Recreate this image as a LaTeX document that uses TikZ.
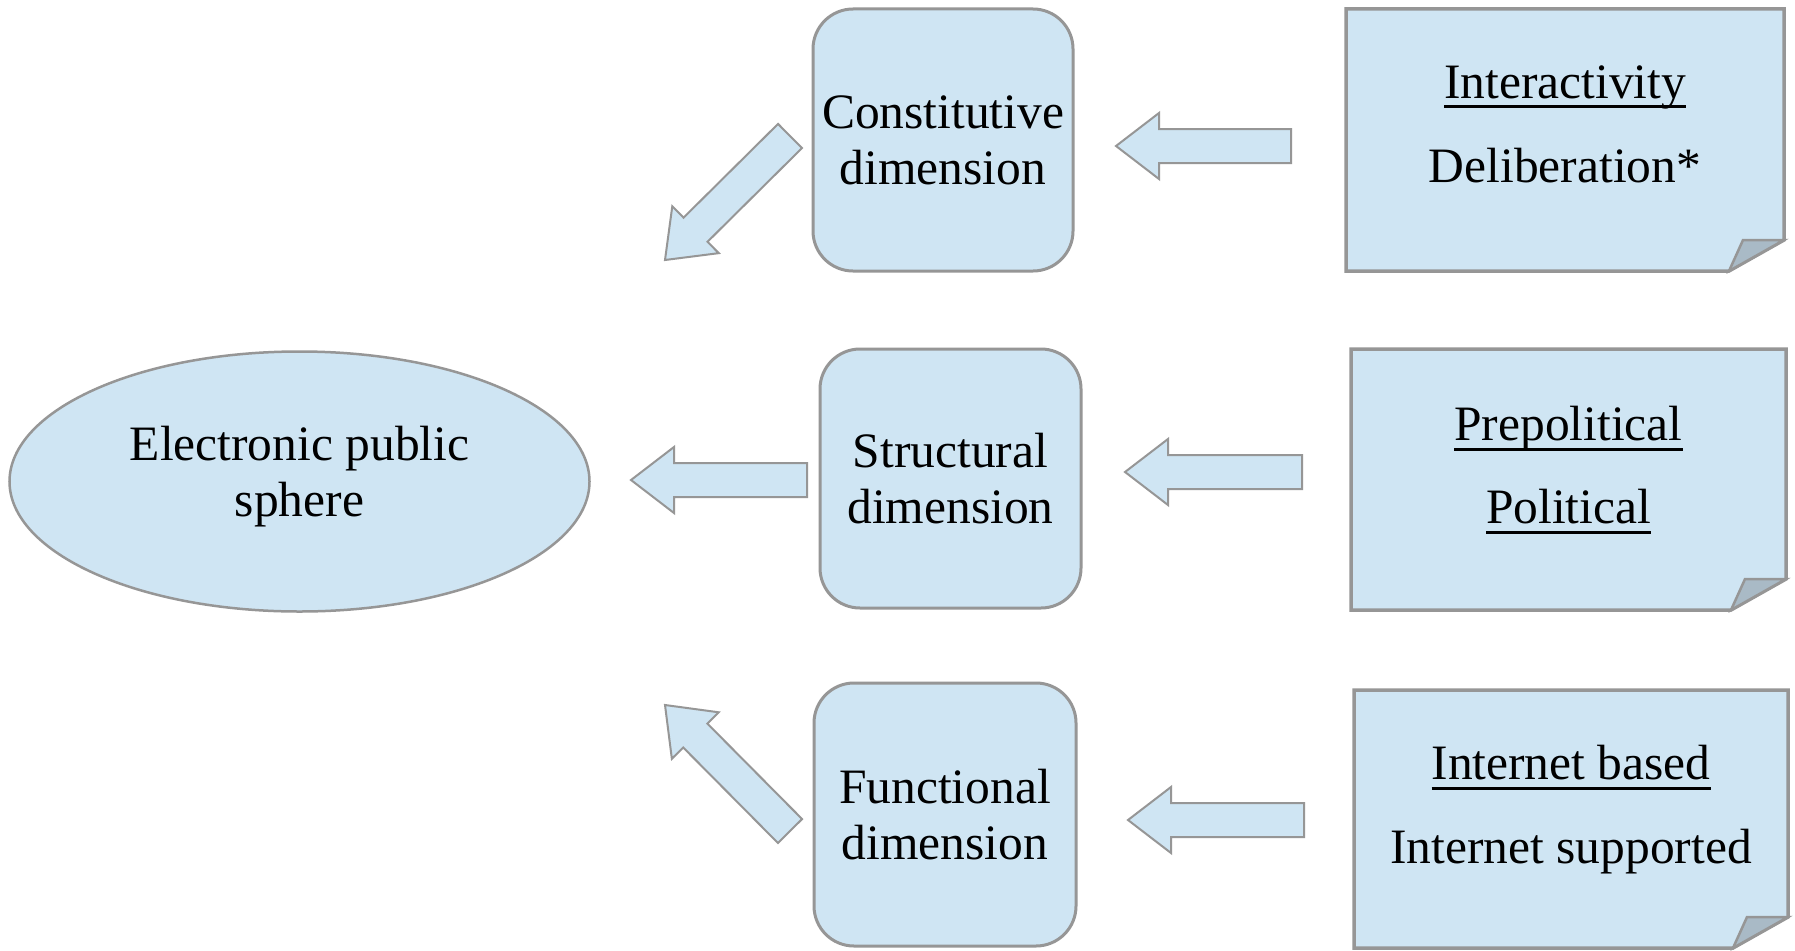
\documentclass[tikz,border=0pt]{standalone}
\usepackage{fontspec}
\setmainfont{Liberation Serif}
\usetikzlibrary{shapes.geometric,calc}
\definecolor{boxfill}{HTML}{CFE5F3}
\definecolor{boxline}{HTML}{969696}
\definecolor{foldfill}{HTML}{A9BAC6}
\newcommand\uln[1]{\setbox0\hbox{#1}\rlap{\rule[-10.5pt]{\wd0}{3pt}}\box0}
\newcommand\blockarrow[2]{%
  \coordinate (ba-b) at ($(#2)!43pt!(#1)$);
  \draw[barrow] ($(#1)!17pt!90:(#2)$) -- ($(ba-b)!17pt!90:(#2)$) -- ($(ba-b)!33pt!90:(#2)$) -- (#2)
    -- ($(ba-b)!33pt!-90:(#2)$) -- ($(ba-b)!17pt!-90:(#2)$) -- ($(#1)!17pt!-90:(#2)$) -- cycle;}
\newcommand\notepaper[1]{%
  \draw[noteline] (#1.north west) -- (#1.north east) -- ($(#1.south east)+(0,-31)$)
    -- ($(#1.south east)+(-55,0)$) -- (#1.south west) -- cycle;
  \draw[foldline] ($(#1.south east)+(0,-31)$) -- ($(#1.south east)+(-41,-31)$)
    -- ($(#1.south east)+(-55,0)$) -- cycle;}
\tikzset{
  txt/.style={font=\fontsize{49.5}{56}\selectfont, align=center, inner sep=0pt},
  dimbox/.style={draw=boxline, fill=boxfill, line width=3pt, rounded corners=40pt,
    txt, minimum width=260pt, minimum height=261pt},
  sphere/.style={ellipse, draw=boxline, fill=boxfill, line width=2.5pt,
    minimum width=580pt, minimum height=260pt, inner sep=0pt},
  notenode/.style={rectangle, draw=none, fill=none, outer sep=0pt, inner sep=0pt},
  noteline/.style={draw=boxline, fill=boxfill, line width=3.5pt, line join=miter},
  foldline/.style={draw=boxline, fill=foldfill, line width=2.5pt, line join=miter},
  barrow/.style={draw=boxline, fill=boxfill, line width=2pt, line join=miter},
  notetext/.style={font=\fontsize{49.5}{56}\selectfont, inner sep=0pt, anchor=base}
}
\begin{document}
\begin{tikzpicture}[x=1pt,y=-1pt]
\useasboundingbox (0,0) rectangle (1795,950);
\fill[white] (0,0) rectangle (1795,950);

% ellipse
\node[sphere] (eps) at (299.5,481.5) {};
\node[txt] (epst) at (299.5,476.5) {Electronic public\\sphere};

% dimension boxes
\node[dimbox, minimum width=260pt, minimum height=262pt] (cons) at (943,140) {Constitutive\\dimension};
\node[dimbox, minimum width=261pt, minimum height=259pt] (struc) at (950.5,478.5) {Structural\\dimension};
\node[dimbox, minimum width=262pt, minimum height=263pt] (func) at (945,814.5) {Functional\\dimension};

% notes
\node[notenode, minimum width=438pt, minimum height=262pt] (n1) at (1565,140) {};
\node[notenode, minimum width=435pt, minimum height=261pt] (n2) at (1568.5,479.5) {};
\node[notenode, minimum width=434pt, minimum height=258pt] (n3) at (1571,819) {};
\notepaper{n1}
\notepaper{n2}
\notepaper{n3}
\node[notetext] (n1a) at (1565,98) {\uln{Interactivity}};
\node[notetext] (n1b) at (1565,182) {Deliberation*};
\node[notetext] (n2a) at (1568.5,440) {\uln{Prepolitical}};
\node[notetext] (n2b) at (1568.5,523) {\uln{Political}};
\node[notetext] (n3a) at (1571,779) {\uln{Internet based}};
\node[notetext] (n3b) at (1571,863) {Internet supported};

% arrow end points
\coordinate (a1t) at (1291,146);  \coordinate (a1h) at (1116,146);
\coordinate (a2t) at (1302,472);  \coordinate (a2h) at (1125,472);
\coordinate (a3t) at (1304,820);  \coordinate (a3h) at (1128,820);
\coordinate (a4t) at (807,480);   \coordinate (a4h) at (631,480);
\coordinate (a5t) at (790,136);   \coordinate (a5h) at (665,260);
\coordinate (a6t) at (790,831);   \coordinate (a6h) at (665,705);
\blockarrow{a1t}{a1h}
\blockarrow{a2t}{a2h}
\blockarrow{a3t}{a3h}
\blockarrow{a4t}{a4h}
\blockarrow{a5t}{a5h}
\blockarrow{a6t}{a6h}
\end{tikzpicture}
\end{document}
